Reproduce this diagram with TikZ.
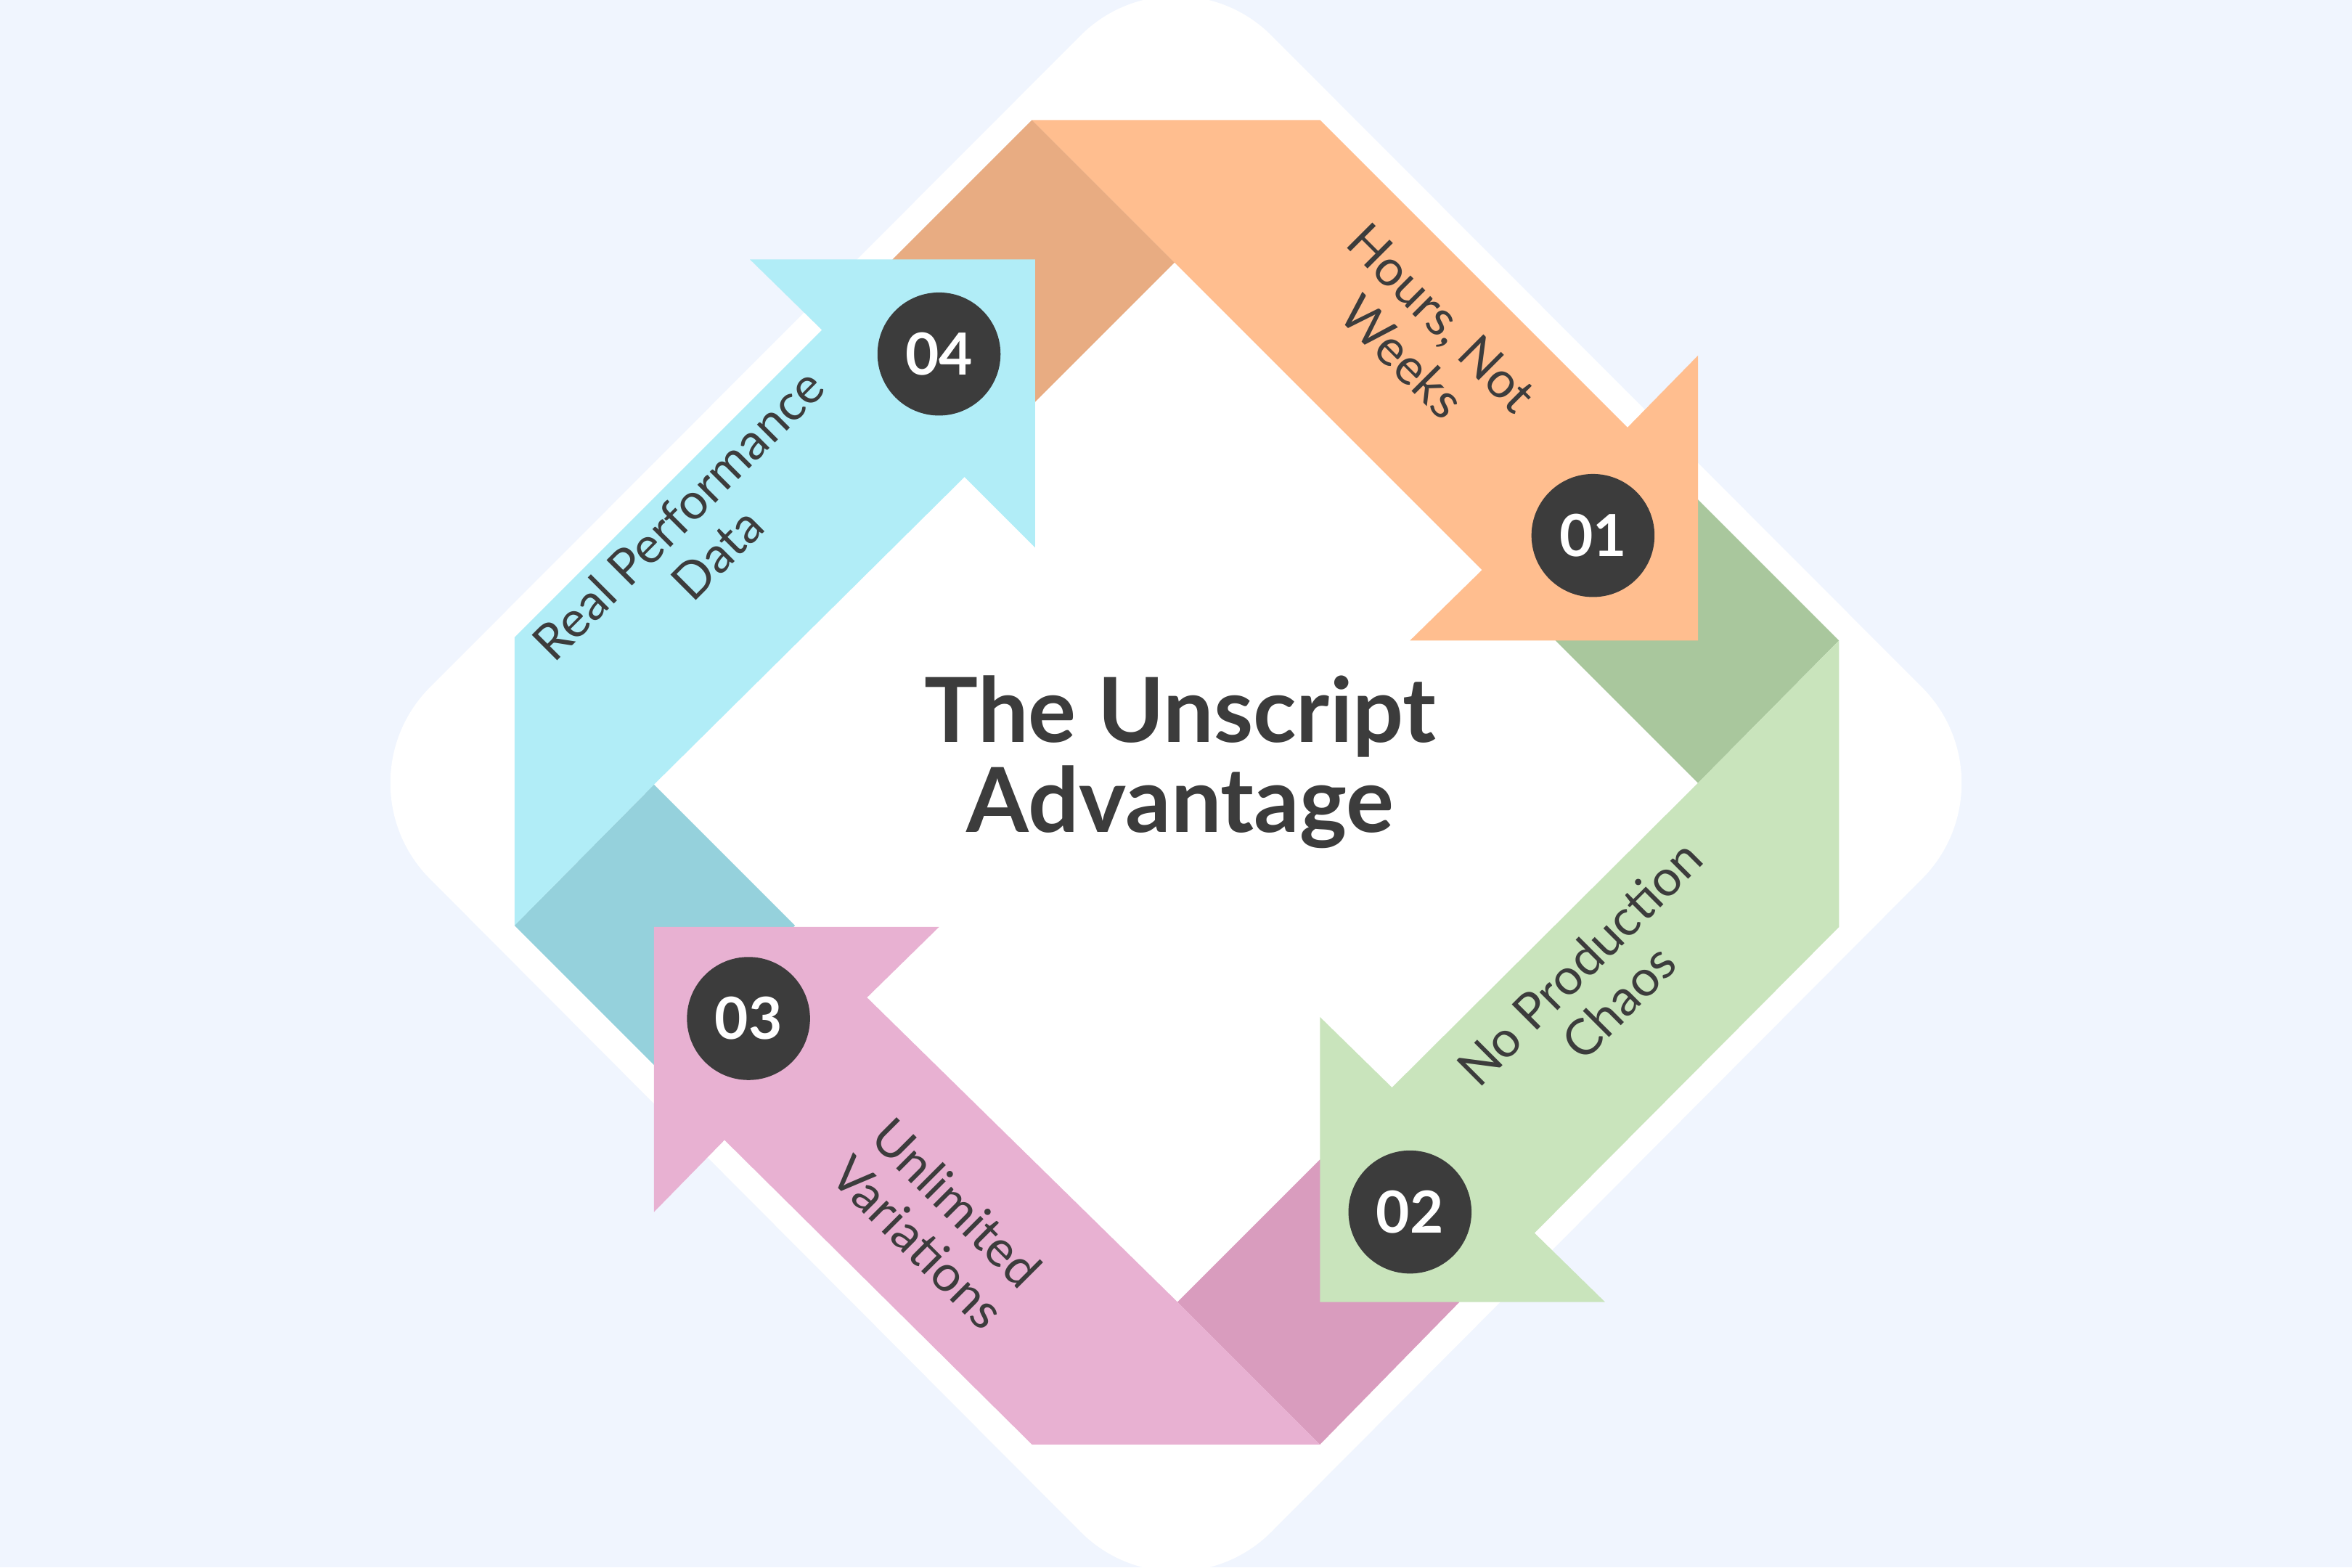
\documentclass[tikz,border=0pt]{standalone}
\usepackage{fontspec}
\setmainfont{Lato}
\usetikzlibrary{positioning}
\definecolor{bgblue}{HTML}{F0F5FE}
\definecolor{orangeA}{HTML}{FFBE8F}
\definecolor{orangeB}{HTML}{E8AC82}
\definecolor{greenA}{HTML}{C9E4BC}
\definecolor{greenB}{HTML}{A9C79D}
\definecolor{pinkA}{HTML}{E8B1D2}
\definecolor{pinkB}{HTML}{D99CBE}
\definecolor{blueA}{HTML}{B1EDF7}
\definecolor{blueB}{HTML}{95D1DC}
\definecolor{darkgrey}{HTML}{3C3C3C}
\tikzset{
  numdot/.style={circle,fill=darkgrey,minimum size=0.82cm,inner sep=0pt,text=white,font=\bfseries\fontsize{11}{11}\selectfont},
  steplabel/.style={align=center,text=darkgrey,font=\fontsize{9.5}{10.5}\selectfont}
}
\begin{document}
\begin{tikzpicture}[x=0.01cm,y=-0.01cm]
  \useasboundingbox (0,0) rectangle (1568,1045);
  \fill[bgblue] (0,0) rectangle (1568,1045);
  \fill[white,rounded corners=0.9cm] (784,-40) -- (1345,522) -- (784,1085) -- (223,522) -- cycle;
  % folds
  \fill[orangeB] (595,173) -- (688,80) -- (783,175) -- (690,268) -- cycle;
  \fill[greenB] (1132,333) -- (1226,427) -- (1132,522) -- (1037,427) -- cycle;
  \fill[pinkB] (785,868) -- (880,773) -- (973,868) -- (880,963) -- cycle;
  \fill[blueB] (343,617) -- (436,523) -- (530,617) -- (436,710) -- cycle;
  % arrows
  \fill[orangeA] (688,80) -- (880,80) -- (1085,285) -- (1132,237) -- (1132,427)
    -- (940,427) -- (988,380) -- (783,175) -- cycle;
  \fill[greenA] (1132,522) -- (1226,427) -- (1226,618) -- (1023,822) -- (1070,868)
    -- (880,868) -- (880,678) -- (928,725) -- cycle;
  \fill[pinkA] (880,963) -- (688,963) -- (483,760) -- (436,808) -- (436,618)
    -- (626,618) -- (578,665) -- (785,868) -- cycle;
  \fill[blueA] (343,617) -- (343,425) -- (548,220) -- (500,173) -- (690,173)
    -- (690,365) -- (643,318) -- (436,523) -- cycle;
  % numbers
  \node[numdot] (n1) at (1062,357) {01};
  \node[numdot] (n2) at (940,808) {02};
  \node[numdot] (n3) at (499,679) {03};
  \node[numdot] (n4) at (626,236) {04};
  % labels
  \node[steplabel,rotate=-45] (l1) at (948,225) {Hours, Not\\Weeks};
  \node[steplabel,rotate=45] (l2) at (1066,655) {No Production\\Chaos};
  \node[steplabel,rotate=-45] (l3) at (625,815) {Unlimited\\Variations};
  \node[steplabel,rotate=45] (l4) at (465,356) {Real Performance\\Data};
  \node[align=center,text=darkgrey,font=\bfseries\fontsize{17}{17}\selectfont] (title) at (787,508) {The Unscript\\Advantage};
\end{tikzpicture}
\end{document}
